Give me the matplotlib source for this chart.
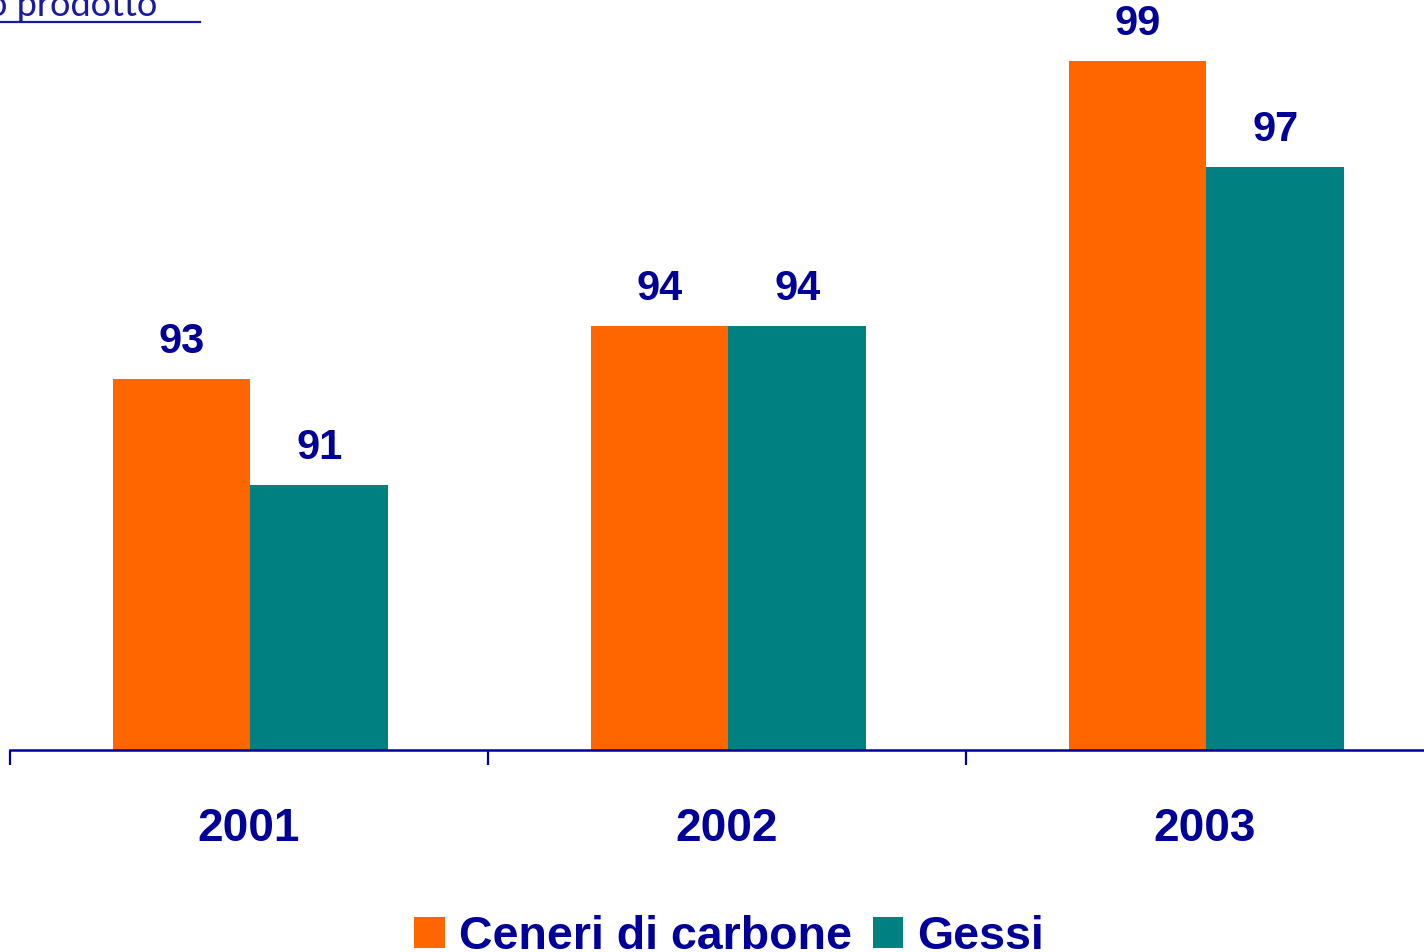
import matplotlib.pyplot as plt
import numpy as np

# data
years = ['2001', '2002', '2003']
ceneri = [93, 94, 99]
gessi = [91, 94, 97]
series_names = ['Ceneri di carbone', 'Gessi']

orange = '#FF6600'
teal = '#008080'
navy = '#000099'

plt.rcParams['font.family'] = ['Liberation Sans', 'DejaVu Sans']

fig = plt.figure(figsize=(14.24, 9.52), dpi=100)
ax = fig.add_axes([10 / 1424, 202 / 952, 1434 / 1424, 750 / 952])

x = np.arange(len(years))
w = 0.288
b1 = ax.bar(x - w / 2 + 0.003, ceneri, w, color=orange, label=series_names[0])
b2 = ax.bar(x + w / 2 + 0.003, gessi, w, color=teal, label=series_names[1])

ax.set_ylim(86.0, 100.15)
ax.set_xlim(-0.5, 2.5)

for bars, vals in [(b1, ceneri), (b2, gessi)]:
    for r, v in zip(bars, vals):
        ax.annotate(str(v), (r.get_x() + r.get_width() / 2, v),
                    xytext=(0, 12), textcoords='offset points',
                    ha='center', va='bottom', fontsize=30,
                    fontweight='bold', color=navy)

# ticks at group boundaries, labels at centres
ax.set_xticks([-0.5, 0.5, 1.5, 2.5])
ax.set_xticklabels([])
ax.tick_params(axis='x', which='major', direction='out', length=11,
               width=1.6, color=navy)
ax.set_xticks(x, minor=True)
ax.set_xticklabels(years, minor=True, fontsize=33, fontweight='bold', color=navy)
ax.tick_params(axis='x', which='minor', length=0, pad=41)

ax.set_yticks([])
for s in ['top', 'right', 'left']:
    ax.spines[s].set_visible(False)
ax.spines['bottom'].set_color(navy)
ax.spines['bottom'].set_linewidth(1.8)

leg = fig.legend(loc='lower center', bbox_to_anchor=(0.512, -0.027), ncol=2,
                 frameon=False, fontsize=33.5, handlelength=0.66, handleheight=0.66,
                 handletextpad=0.3, columnspacing=0.45, borderaxespad=0)
for t in leg.get_texts():
    t.set_color(navy)
    t.set_fontweight('bold')

# title fragment at top left, cut by the picture edge
fig.text(-0.009, 1 - 16 / 952, 'o prodotto', fontsize=26, color='#1a1aa0',
         family=['Lato', 'DejaVu Sans'], va='baseline', ha='left')
fig.add_artist(plt.Line2D([0, 200 / 1424], [1 - 22 / 952, 1 - 22 / 952],
                          color='#1a1aa0', lw=1.6))

fig.savefig('out.png', dpi=100)
